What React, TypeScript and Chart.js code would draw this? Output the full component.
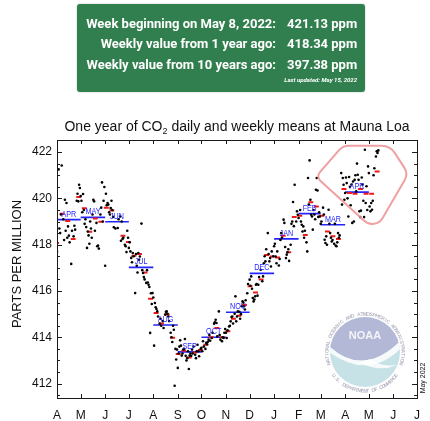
import React, { useEffect, useRef } from "react";
import { Chart, registerables } from "chart.js";

Chart.register(...registerables);

// ---------- data ----------
const headerLabels = ["Week beginning on May 8, 2022:", "Weekly value from 1 year ago:", "Weekly value from 10 years ago:"];
const headerValues = ["421.13 ppm", "418.34 ppm", "397.38 ppm"];
const lastUpdated = "Last updated: May 15, 2022";

// x axis: days since Apr 1 2021
const monthTickDays = [0, 30, 61, 91, 122, 153, 183, 214, 244, 275, 306, 334, 365, 395, 426, 456];
const monthTickLabels = ["A", "M", "J", "J", "A", "S", "O", "N", "D", "J", "F", "M", "A", "M", "J", "J"];
const yTickValues = [412, 414, 416, 418, 420, 422];
const yMin = 411.38;
const yMax = 422.52;

const monthNames = ["APR", "MAY", "JUN", "JUL", "AUG", "SEP", "OCT", "NOV", "DEC", "JAN", "FEB", "MAR", "APR"];
const monthlyMeans = [419.08, 419.18, 418.99, 417.02, 414.53, 413.37, 414.0, 415.08, 416.76, 418.25, 419.34, 418.86, 420.27];

const firstWeekStart = -4; // week beginning Mar 28, 2021
const weeklyMeans: (number | null)[] = [
  418.07, 419.34, 419.02, 418.25, 420.06, 419.57, 418.56, 419.13, 418.99, 419.6,
  419.48, null, 418.39, 418.12, 417.52, 417.6, 416.8, 415.67, 415.05, 414.6,
  414.98, 413.98, 413.28, 413.42, 413.13, 413.35, 413.45, 413.68, 414.0, 414.4,
  414.0, 414.26, 414.8, 414.93, 415.4, 416.2, 415.94, 416.5, 417.55, 417.49,
  417.45, 418.39, 417.67, 419.2, 419.25, 418.42, 419.83, 419.65, 419.25, 418.57,
  418.36, 418.25, 420.4, 420.23, 420.2, 420.4, 420.2, 420.2, 421.16,
];

const dailyMeans: [number, number][] = [
  [0, 417.7], [2, 421.25], [3, 418.7], [4, 418.5], [5, 419.3], [6, 421.42], [8, 419.1], [9, 418.2],
  [10, 419.94], [11, 418.6], [12, 419.8], [13, 418.3], [14, 418.79], [15, 418.39], [16, 418.1],
  [18, 417.17], [19, 418.6], [21, 418.36], [22, 418.82], [23, 418.65],
  [25, 419.9], [26, 420.2], [27, 419.87], [28, 420.59], [29, 420.45], [30, 420.1],
  [31, 419.9], [32, 419.4], [33, 420.19], [34, 419.5], [35, 418.9], [36, 419.1], [37, 418.76],
  [38, 417.86], [39, 418.57], [40, 418.4], [41, 418.04], [42, 419.0], [43, 418.7], [44, 418.3],
  [45, 419.3], [46, 419.94], [47, 419.87], [48, 418.6], [50, 418.94], [51, 417.93],
  [52, 417.96], [53, 417.83], [55, 419.3], [56, 419.6], [57, 420.69], [58, 419.0],
  [59, 419.9], [60, 420.49], [61, 417.09], [62, 420.2], [63, 419.7], [64, 419.8], [65, 419.73],
  [66, 419.4], [67, 419.3], [68, 419.58], [69, 419.9], [70, 419.5], [71, 419.2], [72, 418.75],
  [74, 418.7], [77, 418.72], [78, 419.1],
  [80, 419.22], [81, 418.17], [82, 419.0], [83, 418.25], [84, 418.3], [86, 418.0],
  [87, 417.93], [88, 417.68], [89, 418.6], [90, 418.3], [91, 417.86], [92, 418.1], [93, 417.71],
  [94, 417.43], [95, 417.24], [96, 417.64], [97, 417.5], [99, 415.91], [100, 417.6],
  [101, 417.09], [102, 416.8], [103, 417.64], [104, 417.35], [105, 417.49], [107, 418.91],
  [108, 416.9], [109, 416.78], [110, 416.6], [111, 416.5], [113, 416.35], [114, 416.9],
  [115, 416.37], [116, 416.27], [117, 416.17], [118, 414.19], [119, 415.9], [120, 415.44], [121, 415.91],
  [122, 415.72], [123, 413.64], [124, 415.48], [125, 415.3], [126, 415.22], [127, 415.12], [128, 414.9],
  [130, 414.59], [131, 414.8], [132, 414.5], [134, 414.7], [135, 414.4],
  [137, 414.98], [138, 415.1], [139, 415.12], [140, 415.02], [141, 414.9], [142, 414.7],
  [144, 414.2], [145, 414.0], [146, 413.8], [147, 414.5], [148, 414.33], [149, 411.91],
  [150, 413.5], [151, 413.04], [152, 413.47], [153, 412.68], [154, 413.3], [155, 413.6], [156, 413.87],
  [157, 413.64], [158, 413.21], [159, 413.3], [160, 413.47], [161, 413.5], [162, 413.93], [163, 413.2],
  [164, 413.0], [165, 413.1], [166, 413.4], [167, 412.63], [168, 413.21], [169, 413.3], [170, 413.2],
  [171, 413.47], [172, 413.3], [173, 413.6], [175, 413.25], [176, 413.1], [177, 413.4],
  [178, 413.68], [179, 413.4], [180, 413.18], [182, 413.5], [183, 413.55], [184, 413.4],
  [185, 413.83], [186, 413.6], [188, 413.5], [189, 413.76], [190, 413.7], [191, 413.8],
  [192, 413.9], [193, 414.1], [194, 413.85], [196, 413.97], [197, 414.2],
  [199, 414.59], [200, 414.65], [201, 414.76], [202, 414.62], [203, 414.04], [205, 415.12],
  [206, 414.1], [207, 413.9], [209, 413.83], [210, 414.0], [211, 413.97], [212, 414.2],
  [213, 414.36], [214, 414.2], [215, 413.97], [216, 414.3], [218, 414.47], [219, 414.5],
  [220, 414.69], [221, 414.88], [222, 414.9], [223, 414.6], [225, 415.02], [226, 415.77],
  [227, 414.69], [228, 414.9], [229, 415.12], [231, 415.1], [232, 414.8], [233, 415.0],
  [234, 415.34], [235, 415.55], [236, 415.5], [237, 415.34], [238, 415.2], [239, 415.6],
  [241, 415.9], [242, 416.3], [244, 416.49], [245, 416.23], [246, 416.63], [247, 416.1],
  [248, 415.7], [249, 415.55], [250, 415.63], [251, 415.77], [252, 416.27], [253, 416.3], [254, 415.8],
  [255, 416.27], [256, 416.6], [258, 416.92], [260, 416.42], [261, 416.63],
  [262, 417.2], [263, 417.5], [264, 417.28], [265, 417.8], [267, 418.5], [268, 417.6],
  [269, 417.28], [270, 417.42], [271, 417.06], [272, 417.71], [274, 417.5], [275, 417.93],
  [276, 418.04], [277, 417.49], [278, 417.2], [279, 417.71], [281, 417.1], [282, 417.38],
  [283, 418.2], [284, 418.5], [285, 418.3], [287, 419.08], [288, 418.94], [289, 417.9],
  [290, 417.42], [291, 417.57], [292, 417.67], [293, 417.8], [294, 417.3], [296, 418.0],
  [297, 418.9], [298, 419.0], [299, 419.84], [300, 418.8], [301, 420.59], [303, 419.0],
  [304, 419.44], [305, 419.29], [306, 419.15], [308, 419.5], [309, 419.0], [310, 418.86],
  [311, 418.57], [312, 418.79], [313, 418.3], [314, 418.6], [316, 418.1], [317, 417.71],
  [318, 420.88], [319, 419.73], [320, 421.64], [321, 419.94], [322, 419.29], [323, 419.22], [324, 418.65],
  [325, 419.5], [326, 419.3], [327, 419.1], [328, 420.37], [329, 420.88], [330, 420.34], [331, 419.2],
  [332, 419.4], [333, 419.22], [334, 418.9], [335, 419.0], [337, 419.6], [338, 419.3],
  [339, 418.21], [340, 418.07], [341, 418.36], [342, 418.0], [344, 419.51], [345, 418.9],
  [346, 418.5], [347, 418.3], [348, 418.14], [349, 418.2], [351, 418.04], [352, 418.9],
  [353, 417.96], [354, 417.93], [355, 418.1], [356, 418.5], [357, 418.3], [358, 418.4],
  [360, 421.09], [361, 419.73], [362, 420.88], [363, 420.59], [364, 419.94], [365, 420.23], [366, 420.9],
  [367, 420.66], [368, 420.0], [369, 419.22], [370, 420.92], [371, 420.5], [372, 419.7], [373, 420.6],
  [374, 418.94], [375, 420.73], [376, 419.0], [377, 420.8], [378, 421.0], [379, 420.3], [380, 421.5],
  [381, 421.02], [382, 420.8], [383, 419.44], [384, 419.19], [385, 419.47], [386, 420.9], [387, 420.6],
  [388, 419.9], [389, 419.19], [390, 422.1], [391, 419.8], [392, 420.52], [393, 419.5], [394, 421.38],
  [395, 421.09], [396, 419.65], [397, 419.44], [398, 419.8], [399, 419.51], [400, 419.9], [401, 421.0],
  [402, 421.3], [404, 421.81], [405, 422.03], [406, 421.96], [407, 422.07],
];

// pink highlight outline (day, ppm) vertices with corner radii
const highlightVertices: [number, number, number][] = [
  [328, 420.93, 6],
  [362, 422.27, 14],
  [422, 422.27, 16],
  [445, 421.06, 12],
  [403, 418.6, 12],
];

const FONT = '"Liberation Sans", Arial, Helvetica, sans-serif';

function drawArcText(ctx: CanvasRenderingContext2D, text: string, cx: number, cy: number, r: number, a0: number, a1: number, top: boolean) {
  const n = text.length;
  for (let i = 0; i < n; i++) {
    const t = (i + 0.5) / n;
    const a = a0 + (a1 - a0) * t;
    ctx.save();
    ctx.translate(cx + r * Math.cos(a), cy + r * Math.sin(a));
    ctx.rotate(top ? a + Math.PI / 2 : a - Math.PI / 2);
    ctx.fillText(text[i], 0, 0);
    ctx.restore();
  }
}

const decorPlugin = {
  id: "decor",
  beforeDatasetsDraw(chart: any) {
    const ctx: CanvasRenderingContext2D = chart.ctx;
    const { right, bottom } = chart.chartArea;
    // NOAA emblem
    const cx = right - 52;
    const cy = bottom - 46;
    const R = 35;
    ctx.save();
    ctx.globalAlpha = 0.85;
    ctx.beginPath();
    ctx.arc(cx, cy, R, 0, Math.PI * 2);
    ctx.fillStyle = "#bcdde2";
    ctx.fill();
    ctx.save();
    ctx.beginPath();
    ctx.arc(cx, cy, R, 0, Math.PI * 2);
    ctx.clip();
    ctx.beginPath();
    ctx.moveTo(cx - 40, cy - 10);
    ctx.quadraticCurveTo(cx - 2, cy + 30, cx + 40, cy - 16);
    ctx.lineTo(cx + 40, cy - 40);
    ctx.lineTo(cx - 40, cy - 40);
    ctx.closePath();
    ctx.fillStyle = "#b2b2d5";
    ctx.fill();
    // white gull
    ctx.beginPath();
    ctx.moveTo(cx - 40, cy - 10);
    ctx.quadraticCurveTo(cx - 2, cy + 30, cx + 40, cy - 16);
    ctx.lineTo(cx + 40, cy - 8);
    ctx.quadraticCurveTo(cx + 4, cy + 32, cx - 40, cy - 3);
    ctx.closePath();
    ctx.fillStyle = "#ffffff";
    ctx.fill();
    ctx.beginPath();
    ctx.moveTo(cx - 6, cy + 10);
    ctx.quadraticCurveTo(cx + 14, cy + 21, cx + 32, cy + 13);
    ctx.quadraticCurveTo(cx + 14, cy + 15, cx + 6, cy + 7);
    ctx.closePath();
    ctx.fill();
    ctx.restore();
    // NOAA letters
    ctx.save();
    ctx.fillStyle = "#ffffff";
    ctx.font = `bold 11px ${FONT}`;
    ctx.textAlign = "center";
    ctx.textBaseline = "middle";
    ctx.translate(cx, cy - 16);
    ctx.scale(1.0, 1.05);
    ctx.fillText("NOAA", 0, 0);
    ctx.restore();
    // ring text
    ctx.fillStyle = "#a9a9bb";
    ctx.font = `bold 5px ${FONT}`;
    ctx.textAlign = "center";
    ctx.textBaseline = "alphabetic";
    const d = Math.PI / 180;
    drawArcText(ctx, "NATIONAL OCEANIC AND ATMOSPHERIC ADMINISTRATION", cx, cy, R + 1.5, 160 * d, 380 * d, true);
    drawArcText(ctx, "U.S. DEPARTMENT OF COMMERCE", cx, cy, R + 5.5, 145 * d, 35 * d, false);
    ctx.restore();
  },
  afterDatasetsDraw(chart: any) {
    const ctx: CanvasRenderingContext2D = chart.ctx;
    const xs = chart.scales.x;
    const ys = chart.scales.y;
    const { left, right, top, bottom } = chart.chartArea;

    // monthly labels
    ctx.save();
    ctx.fillStyle = "#2424ff";
    ctx.font = `9px ${FONT}`;
    ctx.textAlign = "center";
    ctx.textBaseline = "alphabetic";
    monthNames.forEach((name, i) => {
      const xc = xs.getPixelForValue((monthTickDays[i] + monthTickDays[i + 1]) / 2);
      const yc = ys.getPixelForValue(monthlyMeans[i]) - 3;
      ctx.save();
      ctx.translate(xc, yc);
      ctx.scale(0.8, 1);
      ctx.fillText(name, 0, 0);
      ctx.restore();
    });
    ctx.restore();

    // pink highlight
    ctx.save();
    const pts = highlightVertices.map(([d, v, r]) => ({ x: xs.getPixelForValue(d), y: ys.getPixelForValue(v), r }));
    const n = pts.length;
    const last = pts[n - 1];
    ctx.beginPath();
    ctx.moveTo((last.x + pts[0].x) / 2, (last.y + pts[0].y) / 2);
    for (let i = 0; i < n; i++) {
      const p = pts[i];
      const q = pts[(i + 1) % n];
      ctx.arcTo(p.x, p.y, q.x, q.y, p.r);
    }
    ctx.closePath();
    ctx.strokeStyle = "rgba(238,150,150,0.9)";
    ctx.lineWidth = 2;
    ctx.stroke();
    ctx.restore();

    // frame and ticks
    ctx.save();
    ctx.strokeStyle = "#1a1a1a";
    ctx.lineWidth = 1;
    ctx.strokeRect(Math.round(left) + 0.5, Math.round(top) + 0.5, Math.round(right - left), Math.round(bottom - top));
    ctx.beginPath();
    monthTickDays.forEach((d) => {
      const x = Math.round(xs.getPixelForValue(d)) + 0.5;
      ctx.moveTo(x, bottom);
      ctx.lineTo(x, bottom - 4);
      ctx.moveTo(x, top);
      ctx.lineTo(x, top + 4);
    });
    for (let v = 411.5; v <= 422.5; v += 0.5) {
      const y = Math.round(ys.getPixelForValue(v)) + 0.5;
      const len = yTickValues.includes(v) ? 5 : 3;
      ctx.moveTo(left, y);
      ctx.lineTo(left + len, y);
      ctx.moveTo(right, y);
      ctx.lineTo(right - len, y);
    }
    ctx.stroke();
    ctx.restore();

    // title with subscript
    ctx.save();
    ctx.fillStyle = "#111";
    ctx.textBaseline = "alphabetic";
    ctx.textAlign = "left";
    const p1 = "One year of CO";
    const sub = "2";
    const p2 = " daily and weekly means at Mauna Loa";
    ctx.font = `14px ${FONT}`;
    const w1 = ctx.measureText(p1).width;
    const w3 = ctx.measureText(p2).width;
    ctx.font = `9px ${FONT}`;
    const w2 = ctx.measureText(sub).width;
    const total = w1 + w2 + w3;
    const x0 = (left + right) / 2 - total / 2;
    const by = 131;
    ctx.font = `14px ${FONT}`;
    ctx.fillText(p1, x0, by);
    ctx.fillText(p2, x0 + w1 + w2, by);
    ctx.font = `9px ${FONT}`;
    ctx.fillText(sub, x0 + w1, by + 3);
    ctx.restore();

    // y axis title
    ctx.save();
    ctx.fillStyle = "#111";
    ctx.font = `13px ${FONT}`;
    ctx.textAlign = "center";
    ctx.textBaseline = "middle";
    ctx.translate(17, 264);
    ctx.rotate(-Math.PI / 2);
    ctx.fillText("PARTS PER MILLION", 0, 0);
    ctx.restore();

    // date stamp
    ctx.save();
    ctx.fillStyle = "#111";
    ctx.font = `7px ${FONT}`;
    ctx.textAlign = "center";
    ctx.textBaseline = "middle";
    ctx.translate(right + 6, bottom - 20);
    ctx.rotate(-Math.PI / 2);
    ctx.fillText("May 2022", 0, 0);
    ctx.restore();
  },
};

export default function App() {
  const ref = useRef<HTMLCanvasElement | null>(null);
  useEffect(() => {
    if (!ref.current) return;
    const dailyPoints = dailyMeans.map(([d, v]) => ({ x: d, y: v }));
    const weeklyPoints: { x: number; y: number | null }[] = [];
    weeklyMeans.forEach((v, k) => {
      if (v === null) return;
      const s = firstWeekStart + 7 * k;
      weeklyPoints.push({ x: s + 0.4, y: v }, { x: s + 6.6, y: v }, { x: s + 6.6, y: null });
    });
    const monthlyPoints: { x: number; y: number | null }[] = [];
    monthlyMeans.forEach((v, i) => {
      monthlyPoints.push({ x: monthTickDays[i], y: v }, { x: monthTickDays[i + 1], y: v }, { x: monthTickDays[i + 1], y: null });
    });

    const chart = new Chart(ref.current, {
      type: "scatter",
      data: {
        datasets: [
          {
            type: "scatter",
            data: dailyPoints,
            pointRadius: 1.3,
            pointBackgroundColor: "#000",
            pointBorderWidth: 0,
          } as any,
          {
            type: "line",
            data: weeklyPoints,
            borderColor: "#f01818",
            borderWidth: 2,
            pointRadius: 0,
            spanGaps: false,
            fill: false,
          } as any,
          {
            type: "line",
            data: monthlyPoints,
            borderColor: "#2424ff",
            borderWidth: 1.6,
            pointRadius: 0,
            spanGaps: false,
            fill: false,
          } as any,
        ],
      },
      options: {
        responsive: false,
        animation: false,
        events: [],
        layout: { padding: { left: 8, top: 140, right: 10, bottom: 0 } },
        plugins: { legend: { display: false }, tooltip: { enabled: false }, title: { display: false } },
        scales: {
          x: {
            type: "linear",
            min: 0,
            max: 456,
            afterBuildTicks: (s: any) => {
              s.ticks = monthTickDays.map((v) => ({ value: v }));
            },
            afterFit: (s: any) => {
              s.height = 23;
            },
            grid: { display: false, drawTicks: false },
            border: { display: false },
            ticks: {
              autoSkip: false,
              maxRotation: 0,
              padding: 10,
              color: "#111",
              font: { family: FONT, size: 12 },
              callback: (_v: any, i: number) => monthTickLabels[i],
            },
          },
          y: {
            type: "linear",
            min: yMin,
            max: yMax,
            afterBuildTicks: (s: any) => {
              s.ticks = yTickValues.map((v) => ({ value: v }));
            },
            afterFit: (s: any) => {
              s.width = 49;
            },
            grid: { display: false, drawTicks: false },
            border: { display: false },
            ticks: {
              padding: 5,
              color: "#111",
              font: { family: FONT, size: 12 },
              callback: (v: any) => String(v),
            },
          },
        },
      } as any,
      plugins: [decorPlugin],
    });
    return () => chart.destroy();
  }, []);

  const rowTops = [12, 32, 53];
  return (
    <div style={{ position: "fixed", left: 0, top: 0, width: 430, height: 421, background: "#fff", overflow: "hidden" }}>
      <canvas ref={ref} width={430} height={421} style={{ position: "absolute", left: 0, top: 0, width: 430, height: 421 }} />
      <div
        style={{
          position: "absolute",
          left: 77,
          top: 4,
          width: 288,
          height: 88,
          background: "#317f4e",
          borderRadius: 3,
          boxShadow: "0 0 2px rgba(0,0,0,0.25)",
          color: "#fff",
          fontFamily: 'Roboto, "Noto Sans", sans-serif',
          fontWeight: 700,
        }}
      >
        {headerLabels.map((t, i) => (
          <div key={"l" + i} style={{ position: "absolute", top: rowTops[i], left: 0, width: 199, textAlign: "right", fontSize: 13, lineHeight: "16px", whiteSpace: "nowrap" }}>
            {t}
          </div>
        ))}
        {headerValues.map((t, i) => (
          <div key={"v" + i} style={{ position: "absolute", top: rowTops[i], left: 210, fontSize: 13, lineHeight: "16px", whiteSpace: "nowrap" }}>
            {t}
          </div>
        ))}
        <div style={{ position: "absolute", top: 72, right: 8, fontSize: 6, lineHeight: "8px", fontStyle: "italic", whiteSpace: "nowrap" }}>
          {lastUpdated}
        </div>
      </div>
    </div>
  );
}
